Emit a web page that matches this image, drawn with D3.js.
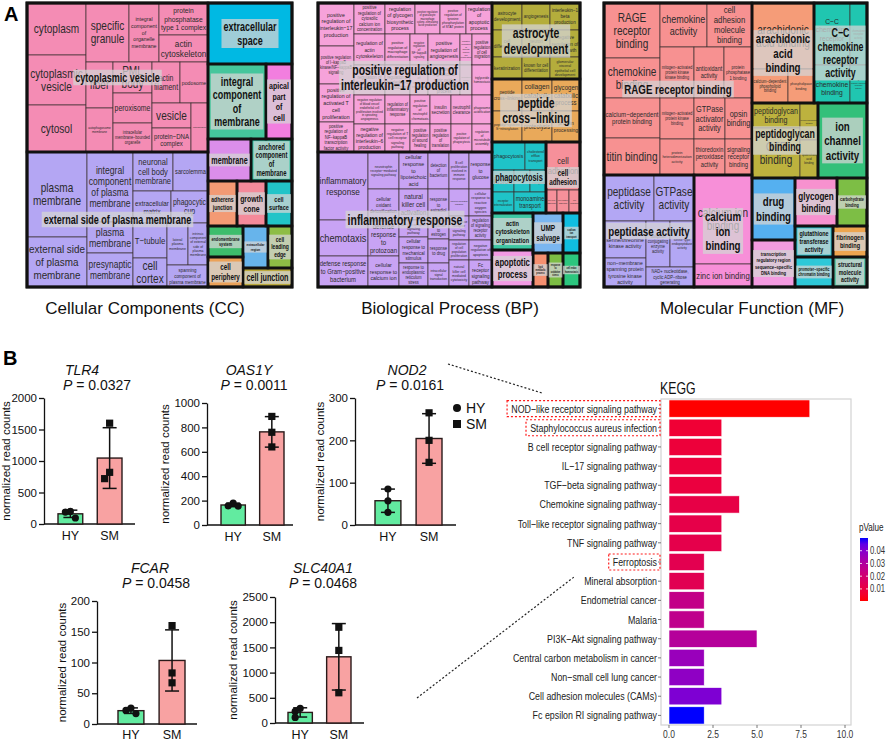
<!DOCTYPE html>
<html><head><meta charset="utf-8">
<script src="https://cdn.jsdelivr.net/npm/d3@7"></script>
<style>body{margin:0;background:#fff}svg{display:block}text{font-family:"Liberation Sans",Arial,Helvetica,sans-serif}</style>
</head><body><svg id="fig" width="886" height="741"></svg>
<script>
// ================= DATA =================
const L=(name,value)=>({name,value});
const H=(...children)=>({t:'h',children});
const V=(...children)=>({t:'v',children});
const G=(name,t,...children)=>({g:true,name,t,children});
const S=(name,value)=>G(name,'v',L(name,value));

// Cellular Components treemap (values = relative term size)
const ccTree = H(
  V(
    G("cytoplasmic vesicle",'h',
      V(L("cytoplasm",3068),L("cytoplasmic vesicle",2950),L("cytosol",2773)),
      V(
        H(L("specific granule",2537),L("integral component of organelle membrane",1770),
          V(L("protein phosphatase type 1 complex",1568),L("actin cytoskeleton",1323))),
        H(V(L("fiber",1242),L("autophagosome membrane",1188)),
          V(L("PML body",1209),L("peroxisome",1170),L("intracellular membrane−bounded organelle",1131)),
          V(H(L("actin filament",1148),L("podosome",1148)),
            H(V(L("vesicle",975),L("protein−DNA complex",936)),L("mitochondrion",833))))
      )
    ),
    G("external side of plasma membrane",'h',
      V(L("plasma membrane",5100),L("external side of plasma membrane",3000)),
      V(L("integral component of plasma membrane",3220),L("plasma membrane",1426),L("presynaptic membrane",1564)),
      V(H(L("neuronal cell body membrane",1560),L("sarcolemma",1365)),
        H(L("extracellular matrix",1216),L("phagocytic cup",1184)),
        H(V(L("T−tubule",1190),L("cell cortex",986)),
          V(H(L("lateral plasma membrane",882),L("intrinsic component of external side of plasma membrane",840)),
            L("spanning component of plasma membrane",902))))
    )
  ),
  V(
    S("extracellular space",5124),
    H(S("integral component of membrane",4350),S("apical part of cell",1950)),
    H(S("membrane",1806),S("anchored component of membrane",1722)),
    H(S("adherens junction",1305),S("growth cone",1305),S("cell surface",1170)),
    H(V(S("endomembrane system",1085),S("cell periphery",1050)),
      V(H(S("extracellular region",1050),S("cell leading edge",1008)),S("cell junction",931)))
  )
);
const ccColors=["#F48CB4","#B4A6F3","#00B9E3","#45C69C","#F27EDF","#DB8EEA","#2FC5A6","#F39A74","#F48A9A","#22C4C8","#3DBD6C","#EBA259","#BAA93C","#67B4EB","#8EBD45"];

// Biological Process treemap
const bpTree = H(
  V(
    G("positive regulation of interleukin−17 production",'h',
      V(L("positive regulation of interleukin−17 production",1548),L("positive regulation of I−kappaB kinase/NF−kappaB signaling",1368),
        L("positive regulation of activated T cell proliferation",1368),L("positive regulation of NF−kappaB transcription factor activity",1080)),
      V(
        H(L("positive regulation of cytosolic calcium ion concentration",961),L("regulation of glycogen biosynthetic process",930),
          L("positive regulation of granulocyte macrophage colony−stimulating factor production",775),L("positive regulation of tyrosine phosphorylation of STAT protein",806),L("regulation of apoptotic process",806)),
        H(L("regulation of actin cytoskeleton",961),L("positive regulation of macrophage differentiation",775),L("negative regulation of NF−kappaB signaling",558),
          L("positive regulation of angiogenesis",992),L("negative regulation of smooth muscle cell proliferation",372),L("positive regulation of cell migration",620)),
        H(L("positive regulation of T cell cytokine production",930),L("positive regulation of interleukin−8 production",750),L("regulation of immune response",540),
          L("positive regulation of nitric oxide biosynthetic process",960),L("regulation of cell shape",360),L("triglyceride homeostasis",600)),
        H(L("negative regulation of blood vessel endothelial cell proliferation involved in sprouting angiogenesis",899),L("regulation of inflammatory response",725),
          L("positive regulation of neutrophil chemotaxis",580),L("insulin secretion",609),L("neutrophil clearance",609),L("phagosome acidification",580)),
        H(L("negative regulation of interleukin−6 production",868),L("negative regulation of T cell receptor signaling pathway",700),L("positive regulation of wound healing",560),
          L("positive regulation of translation",588),L("positive regulation of phagocytosis",588),L("regulation of microtubule assembly",560))
      )
    ),
    G("inflammatory response",'h',
      V(L("inflammatory response",3400),L("chemotaxis",1800),L("defense response to Gram−positive bacterium",1550)),
      V(L("neurotrophin receptor−mediated signaling pathway",1147),L("cellular oxidant detoxification",992),L("defense response to protozoan",1085),L("cellular response to calcium ion",961)),
      V(L("cellular response to lipoteichoic acid",1073),L("natural killer cell activation",899),L("toll−like receptor signaling pathway",493),L("cellular response to mechanical stimulus",754),L("response to endoplasmic reticulum stress",696)),
      V(L("detection of bacterium",777),L("response to estradiol",672),L("response to estrogen",378),L("response to drug",504),L("intracellular signal transduction",504)),
      V(L("B cell proliferation involved in immune response",740),L("calcium−mediated signaling",540),L("cell surface receptor signaling pathway",480),L("regulation of cell population proliferation",400),L("natural killer cell mediated cytotoxicity",540)),
      V(L("response to glucose",851),L("cellular response to reactive oxygen species",621),L("regulation of signaling receptor activity",552),L("negative regulation of apoptosis",460),L("Fc receptor signaling pathway",621))
    )
  ),
  V(
    G("astrocyte development",'v',
      H(L("astrocyte development",810),L("angiogenesis",756),L("interleukin−1 beta production",810)),
      H(L("cell differentiation",810),L("neuron development",756),L("negative regulation of cell growth",810)),
      H(L("keratinization",660),L("known for cell differentiation",616),L("glomerular visceral epithelial cell development",660))),
    G("peptide cross−linking",'v',
      H(L("peptide cross−linking",960),L("collagen catabolic process",960),L("glycogen catabolic process",896)),
      H(L("peptidyl−cysteine S−nitrosylation",930),L("proteolysis",930),L("protein processing",868))),
    H(
      G("phagocytosis",'v',
        H(L("phagocytosis",924),L("cholesterol efflux transport",588)),
        H(L("fusion",484),L("endocytosis",352),L("lipid transport",352)),
        H(L("receptor internalization",462),L("monoamine transport",672))),
      G("cell adhesion",'v',L("cell adhesion",1632),H(L("cell−cell adhesion",253),L("cell−matrix adhesion",276),L("cell migration",253)))
    ),
    H(
      V(S("actin cytoskeleton organization",1517),S("apoptotic process",1517)),
      V(H(S("UMP salvage",1200),S("sodium ion transport",680)),
        H(S("lipid metabolic process",510),S("response to oxidative stress",510),S("cell redox homeostasis",578)))
    )
  )
);
const bpColors=["#F6A2DA","#C8A3F4","#B4AD3C","#E9A95A","#1FC3C8","#F6909A","#3CC7A3","#F29AE3","#7AB6F0","#10BEE0","#F59070","#7CBD44","#2CC67E"];

// Molecular Function treemap
const mfTree = H(
  V(
    G("RAGE receptor binding",'h',
      V(L("RAGE receptor binding",3080),L("chemokine binding",2240),L("calcium−dependent protein binding",2240),L("titin binding",2072)),
      V(
        H(L("chemokine activity",2068),L("cell adhesion molecule binding",1980)),
        H(L("mitogen−activated protein kinase kinase binding",1734),L("antioxidant activity",1530),L("protein phosphatase 1 binding",1428)),
        H(V(L("mitogen−activated protein kinase binding",1394),L("protein heterodimerization activity",1224)),
          V(L("GTPase activator activity",1271),L("thioredoxin peroxidase activity",1116)),
          V(L("opsin binding",1107),L("signaling receptor binding",972)))
      )
    ),
    H(
      G("peptidase activity",'v',
        H(L("peptidase activity",2300),L("GTPase activity",1840)),
        H(V(L("protein serine/threonine kinase activity",1554),L("non−membrane spanning protein tyrosine kinase activity",1218)),
          V(H(L("ubiquitin conjugating enzyme activity",1104),L("serine−type endopeptidase activity",1104)),
            L("NAD+ nucleotidase, cyclic ADP−ribose generating",960)))),
      G("calcium ion binding",'v',L("calcium ion binding",5162),L("zinc ion binding",1334))
    )
  ),
  V(
    H(G("arachidonic acid binding",'v',L("arachidonic acid binding",4092),H(L("calcium−dependent phospholipid binding",1224),L("phospholipase binding",884))),
      G("C−C chemokine receptor activity",'v',H(L("C−C chemokine receptor activity",2232),L("chemokine receptor activity",1054)),H(L("C−C chemokine binding",1368),L("G protein−coupled receptor activity",646)))),
    H(G("peptidoglycan binding",'h',V(L("peptidoglycan binding",1200),L("GTP binding",2400)),V(L("lipopolysaccharide binding",666),L("lipoteichoic acid binding",684))),
      S("ion channel activity",3675)),
    H(V(S("drug binding",2666),S("transcription regulatory region sequence−specific DNA binding",2021)),
      V(H(S("glycogen binding",2016),S("carbohydrate binding",1440)),
        H(S("glutathione transferase activity",1178),S("fibrinogen binding",1054)),
        H(S("promoter−specific chromatin binding",1140),S("structural molecule activity",1020))))
  )
);
const mfColors=["#F79191","#B3A7F4","#F78FD8","#F59C78","#20C6B0","#BDB23E","#33C07A","#55B0F0","#F39BE0","#F791CF","#7DBE45","#20C2D0","#EDA54F","#2EC8D8","#5CC5A5"];

const treemapTitles=["Cellular Components (CC)","Biological Process (BP)","Molecular Function (MF)"];

// Panel B: gene expression (normalized read counts)
const genes=["TLR4","OAS1Y","NOD2","FCAR","SLC40A1"];
const genePValues=["0.0327","0.0011","0.0161","0.0458","0.0468"];
const groupsHS=["HY","SM"];
const hyPoints=[[200,190,95],[180,157,155],[85,57,30],[26,22,17],[290,230,110]];
const smPoints=[[1600,820,720],[890,760,640],[265,200,148],[160,83,67],[1900,1440,600]];
const yMaxes=[2000,1000,300,200,2500];
const ySteps=[500,200,100,50,500];

// KEGG enrichment
const keggTerms=["NOD−like receptor signaling pathway","Staphylococcus aureus infection","B cell receptor signaling pathway","IL−17 signaling pathway","TGF−beta signaling pathway","Chemokine signaling pathway","Toll−like receptor signaling pathway","TNF signaling pathway","Ferroptosis","Mineral absorption","Endometrial cancer","Malaria","PI3K−Akt signaling pathway","Central carbon metabolism in cancer","Non−small cell lung cancer","Cell adhesion molecules (CAMs)","Fc epsilon RI signaling pathway"];
const keggCounts=[8,3,3,3,3,4,3,3,2,2,2,2,5,2,2,3,2];
const keggP=[0.0005,0.0075,0.0085,0.009,0.0095,0.011,0.0115,0.012,0.013,0.0135,0.025,0.026,0.029,0.036,0.038,0.041,0.050];
const keggHighlighted=["NOD−like receptor signaling pathway","Staphylococcus aureus infection","Ferroptosis"];
const keggXTicks=[0,2.5,5,7.5,10];
const pLegendTicks=[0.01,0.02,0.03,0.04];

// ================= DRAWING =================
const svg=d3.select('#fig');
svg.append('rect').attr('width',886).attr('height',741).attr('fill','#fff');
const FONT='"Liberation Sans", Arial, Helvetica, sans-serif';
const SX_LEAF=0.84, SX_GRP=0.72, SX_K=0.77;
const ctx=document.createElement('canvas').getContext('2d');
function measure(t,size,bold,sx){ctx.font=`${bold?'bold ':''}${size}px ${FONT}`;return ctx.measureText(t).width*sx;}
function wrap(words,size,bold,sx,maxW){
  const lines=[];let cur='';
  for(const w of words){const t=cur?cur+' '+w:w;if(!cur||measure(t,size,bold,sx)<=maxW)cur=t;else{lines.push(cur);cur=w;}}
  if(cur)lines.push(cur);return lines;
}
function layoutText(text,w,h,max,min,bold,sx){
  const words=text.split(/\s+/);
  for(let s=max;s>=min;s-=0.25){
    const lines=wrap(words,s,bold,sx,w);const lh=s*1.08;
    if(lines.length*lh<=h&&lines.every(l=>measure(l,s,bold,sx)<=w))return{s,lines,lh};
  }
  return{s:min,lines:wrap(words,min,bold,sx,w),lh:min*1.08};
}
function fitLabel(parent,text,x0,y0,x1,y1,o){
  const pad=o.pad||3;
  const w=Math.max(2,x1-x0-pad),h=Math.max(2,y1-y0-pad);
  const T=layoutText(text,w,h,o.max,o.min,o.bold,o.sx);
  const cx=(x0+x1)/2,cy=(y0+y1)/2,n=T.lines.length;
  if(o.bg){
    const mw=d3.max(T.lines,l=>measure(l,T.s,o.bold,o.sx));
    parent.append('rect').attr('x',cx-mw/2-2).attr('y',cy-n*T.lh/2-1).attr('width',mw+4).attr('height',n*T.lh+2)
      .attr('fill','#d4d4d4').attr('fill-opacity',0.75);
  }
  T.lines.forEach((ln,i)=>{
    const ty=cy+(i-(n-1)/2)*T.lh+T.s*0.35;
    parent.append('text').attr('transform',`translate(${cx},${ty}) scale(${o.sx},1)`).attr('text-anchor','middle')
      .attr('font-size',T.s).attr('font-weight',o.bold?'bold':'normal').attr('fill',o.color).text(ln);
  });
}
function drawTreemap(tree,colors,box,grpMax){
  const [x0,y0,x1,y1]=box;
  const root=d3.hierarchy(tree,d=>d.children).sum(d=>d.children?0:d.value);
  d3.treemap().tile((node,a,b,c,e)=>(node.data.t==='v'?d3.treemapSlice:d3.treemapDice)(node,a,b,c,e))
    .size([x1-x0,y1-y0])(root);
  const g=svg.append('g').attr('transform',`translate(${x0},${y0})`);
  const groups=root.descendants().filter(d=>d.data.g);
  groups.forEach((gn,i)=>{gn.color=colors[i%colors.length];gn.leaves().forEach(l=>l.grp=gn);});
  const leaves=root.leaves();
  g.selectAll('rect.leaf').data(leaves).join('rect').attr('class','leaf')
    .attr('x',d=>d.x0).attr('y',d=>d.y0).attr('width',d=>d.x1-d.x0).attr('height',d=>d.y1-d.y0)
    .attr('fill',d=>d.grp.color).attr('stroke','#3a3030').attr('stroke-width',0.7);
  const lg=g.append('g');
  leaves.filter(d=>d.grp.leaves().length>1).forEach(d=>fitLabel(lg,d.data.name,d.x0,d.y0,d.x1,d.y1,{max:12,min:2.5,bold:false,color:'#2b2b2b',pad:3,sx:SX_LEAF}));
  g.selectAll('rect.grp').data(groups).join('rect').attr('class','grp')
    .attr('x',d=>d.x0).attr('y',d=>d.y0).attr('width',d=>d.x1-d.x0).attr('height',d=>d.y1-d.y0)
    .attr('fill','none').attr('stroke','#111').attr('stroke-width',2.6);
  g.append('rect').attr('x',0).attr('y',0).attr('width',x1-x0).attr('height',y1-y0).attr('fill','none').attr('stroke','#111').attr('stroke-width',3);
  const gl=g.append('g');
  groups.forEach(gn=>fitLabel(gl,gn.data.name,gn.x0,gn.y0,gn.x1,gn.y1,{max:grpMax,min:3,bold:true,color:'#111',bg:true,pad:6,sx:SX_GRP}));
}
drawTreemap(ccTree,ccColors,[27,3,292,287],12.5);
drawTreemap(bpTree,bpColors,[318,3,580,287],14.5);
drawTreemap(mfTree,mfColors,[604,3,867,287],13.5);

[145,450,752].forEach((cx,i)=>svg.append('text').attr('x',cx).attr('y',314).attr('text-anchor','middle')
  .attr('font-size',17).attr('fill','#111').text(treemapTitles[i]));
svg.append('text').attr('x',4).attr('y',21).attr('font-size',20).attr('font-weight','bold').text('A');
svg.append('text').attr('x',3).attr('y',365).attr('font-size',20).attr('font-weight','bold').text('B');

// ---- Panel B bar charts ----
const panels=[
  {ax:44,xEnd:135,y0:524,yTop:398,band:[58,122],tX:82,pX:97,tY:375},
  {ax:207,xEnd:293,y0:525,yTop:403,band:[221,284],tX:249,pX:254,tY:375},
  {ax:355,xEnd:456,y0:525,yTop:398,band:[375,442],tX:407,pX:410,tY:375},
  {ax:97,xEnd:197,y0:724,yTop:601,band:[118,185],tX:150,pX:156,tY:573},
  {ax:275,xEnd:364,y0:723,yTop:597,band:[288,351],tX:323,pX:323,tY:573}
];
const fillHS={HY:'#62EBA0',SM:'#F8A2A2'};
genes.forEach((gene,i)=>{
  const P=panels[i];
  const y=d3.scaleLinear().domain([0,yMaxes[i]]).range([P.y0,P.yTop]);
  const x=d3.scaleBand().domain(groupsHS).range(P.band).paddingInner(0.37).paddingOuter(0);
  const g=svg.append('g');
  const ya=g.append('g').attr('transform',`translate(${P.ax},0)`)
    .call(d3.axisLeft(y).tickValues(d3.range(0,yMaxes[i]+1,ySteps[i])).tickFormat(d3.format('d')).tickSize(5).tickSizeOuter(0).tickPadding(2));
  ya.selectAll('text').attr('font-size',11.5).attr('fill','#111').attr('font-family',FONT);
  ya.selectAll('line,path').attr('stroke','#111').attr('stroke-width',1.3);
  g.append('line').attr('x1',P.ax).attr('x2',P.xEnd).attr('y1',P.y0).attr('y2',P.y0).attr('stroke','#111').attr('stroke-width',1.3);
  const bb=ya.node().getBBox();
  g.append('text').attr('transform',`translate(${Math.max(10,P.ax+bb.x-5)},${(P.y0+P.yTop)/2}) rotate(-90)`).attr('text-anchor','middle')
    .attr('font-size',11.5).attr('fill','#111').text('normalized read counts');
  const sets=[hyPoints[i],smPoints[i]];
  groupsHS.forEach((grp,k)=>{
    const pts=sets[k];const m=d3.mean(pts),sd=d3.deviation(pts);
    const cx=x(grp)+x.bandwidth()/2;
    g.append('rect').attr('x',x(grp)).attr('y',y(m)).attr('width',x.bandwidth()).attr('height',P.y0-y(m))
      .attr('fill',fillHS[grp]).attr('stroke','#2a1a1a').attr('stroke-width',1.4);
    const eg=g.append('g').attr('stroke','#111').attr('stroke-width',1.5);
    eg.append('line').attr('x1',cx).attr('x2',cx).attr('y1',y(m-sd)).attr('y2',y(m+sd));
    [m-sd,m+sd].forEach(v=>eg.append('line').attr('x1',cx-7).attr('x2',cx+7).attr('y1',y(v)).attr('y2',y(v)));
    const placed=[];
    pts.forEach(v=>{
      const py=y(v);const near=placed.filter(q=>Math.abs(q-py)<7).length;placed.push(py);
      const px=cx+[0,-5,5,-9,9][near];
      if(grp==='HY')g.append('circle').attr('cx',px).attr('cy',py).attr('r',3.6).attr('fill','#111');
      else g.append('rect').attr('x',px-3.6).attr('y',py-3.6).attr('width',7.2).attr('height',7.2).attr('fill','#111');
    });
    g.append('text').attr('x',cx).attr('y',Math.min(P.y0+16,739)).attr('text-anchor','middle').attr('font-size',12.5).attr('fill','#111').text(grp);
  });
  g.append('text').attr('x',P.tX).attr('y',P.tY).attr('text-anchor','middle').attr('font-size',14).attr('font-style','italic').attr('fill','#111').text(gene);
  const pt=g.append('text').attr('x',P.pX).attr('y',P.tY+15).attr('text-anchor','middle').attr('font-size',14).attr('fill','#111');
  pt.append('tspan').attr('font-style','italic').text('P');
  pt.append('tspan').text(' = '+genePValues[i]);
});
// legend
svg.append('circle').attr('cx',457).attr('cy',408).attr('r',4).attr('fill','#111');
svg.append('rect').attr('x',453).attr('y',420).attr('width',8).attr('height',8).attr('fill','#111');
svg.append('text').attr('x',466).attr('y',413).attr('font-size',14).attr('fill','#111').text('HY');
svg.append('text').attr('x',466).attr('y',429).attr('font-size',14).attr('fill','#111').text('SM');

// dotted connectors
svg.append('line').attr('x1',448).attr('y1',364).attr('x2',542).attr('y2',393).attr('stroke','#222').attr('stroke-width',1.2).attr('stroke-dasharray','2,2');
svg.append('line').attr('x1',417).attr('y1',698).attr('x2',574).attr('y2',577).attr('stroke','#222').attr('stroke-width',1.2).attr('stroke-dasharray','2,2');

// ---- KEGG bar chart ----
const KX0=661,KX1=851,KY0=399,KY1=725;
const kx=d3.scaleLinear().domain([-0.4545,10.34]).range([KX0,KX1]);
const ky=d3.scaleBand().domain(keggTerms).range([KY0,KY1]).paddingInner(0.1).paddingOuter(0.05);
const pExt=d3.extent(keggP);
const kcol=d3.scaleLinear().domain(pExt).range(['#FF0000','#0000FF']).interpolate(d3.interpolateLab);
const kg=svg.append('g');
kg.append('rect').attr('x',KX0).attr('y',KY0).attr('width',KX1-KX0).attr('height',KY1-KY0).attr('fill','#fff');
kg.selectAll('rect.bar').data(keggTerms).join('rect').attr('class','bar')
  .attr('x',kx(0)).attr('y',d=>ky(d)).attr('width',(d,i)=>kx(keggCounts[i])-kx(0)).attr('height',ky.bandwidth())
  .attr('fill',(d,i)=>kcol(keggP[i])).attr('stroke','#fff').attr('stroke-width',0.6);
kg.append('rect').attr('x',KX0).attr('y',KY0).attr('width',KX1-KX0).attr('height',KY1-KY0).attr('fill','none').attr('stroke','#d3d3d3').attr('stroke-width',1.2);
keggTerms.forEach(t=>{
  const cy=ky(t)+ky.bandwidth()/2;
  kg.append('line').attr('x1',KX0-3).attr('x2',KX0).attr('y1',cy).attr('y2',cy).attr('stroke','#555').attr('stroke-width',0.8);
  kg.append('text').attr('transform',`translate(${KX0-4},${cy+4}) scale(${SX_K},1)`).attr('text-anchor','end')
    .attr('font-size',11.5).attr('fill','#222').text(t);
  if(keggHighlighted.includes(t)){
    const w=measure(t,11.5,false,SX_K);
    kg.append('rect').attr('x',KX0-6-w-2).attr('y',cy-8).attr('width',w+7).attr('height',16)
      .attr('fill','none').attr('stroke','#ff1a1a').attr('stroke-width',1.2).attr('stroke-dasharray','2,2');
  }
});
keggXTicks.forEach(v=>{
  kg.append('line').attr('x1',kx(v)).attr('x2',kx(v)).attr('y1',KY1).attr('y2',KY1+3).attr('stroke','#555').attr('stroke-width',0.8);
  kg.append('text').attr('transform',`translate(${kx(v)},${KY1+13}) scale(${SX_K},1)`).attr('text-anchor','middle')
    .attr('font-size',11).attr('fill','#333').text(v.toFixed(1));
});
kg.append('text').attr('transform',`translate(${KX0-1},394) scale(${SX_K},1)`).attr('font-size',16).attr('fill','#111').text('KEGG');
// colour legend
const ly=d3.scaleLinear().domain(pExt).range([601,538]);
const defs=svg.append('defs');
const grad=defs.append('linearGradient').attr('id','pgrad').attr('x1',0).attr('x2',0).attr('y1',1).attr('y2',0);
d3.range(0,1.001,0.1).forEach(t=>grad.append('stop').attr('offset',t).attr('stop-color',kcol(pExt[0]+t*(pExt[1]-pExt[0]))));
kg.append('rect').attr('x',860).attr('y',ly(pExt[1])).attr('width',8).attr('height',ly(pExt[0])-ly(pExt[1])).attr('fill','url(#pgrad)');
kg.append('text').attr('transform',`translate(859,531) scale(${SX_K},1)`).attr('font-size',10.5).attr('fill','#222').text('pValue');
pLegendTicks.forEach(v=>{
  kg.append('line').attr('x1',860).attr('x2',862).attr('y1',ly(v)).attr('y2',ly(v)).attr('stroke','#fff').attr('stroke-width',0.8);
  kg.append('line').attr('x1',866).attr('x2',868).attr('y1',ly(v)).attr('y2',ly(v)).attr('stroke','#fff').attr('stroke-width',0.8);
  kg.append('text').attr('transform',`translate(870,${ly(v)+3.5}) scale(${SX_K},1)`).attr('font-size',10).attr('fill','#333').text(v.toFixed(2));
});
</script></body></html>
